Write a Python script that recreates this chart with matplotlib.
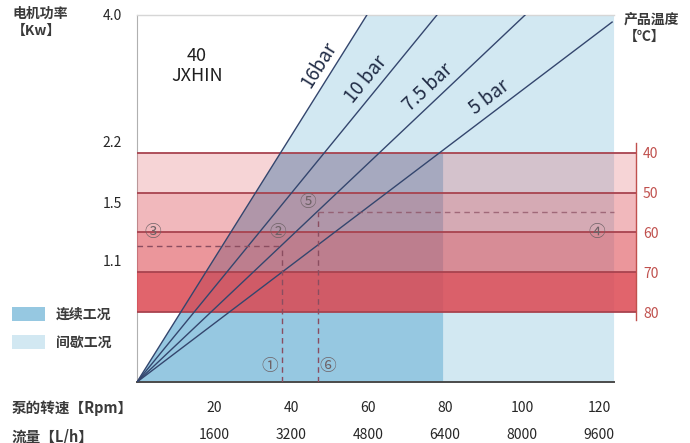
import numpy as np
import matplotlib
matplotlib.use("Agg")
import matplotlib.pyplot as plt
from matplotlib.patches import Polygon, Patch

plt.rcParams["font.family"] = ["Noto Sans CJK SC", "DejaVu Sans"]

# power axis (left), drawn on a schematic non-linear scale
power_ticks = [0, 1.1, 1.5, 2.2, 4.0]
power_frac = [0, 0.332, 0.49, 0.654, 1.0]

# pump speed / flow
rpm_ticks = [20, 40, 60, 80, 100, 120]
flow_ticks = [1600, 3200, 4800, 6400, 8000, 9600]
flow_per_rpm = 80

# product temperature bands (right)
temps = [40, 50, 60, 70, 80]
band_alpha = [0.23, 0.38, 0.57, 0.84]

# pressure lines: end point of each line
pressures = ["16bar", "10 bar", "7.5 bar", "5 bar"]
line_end_rpm = [59.7, 77.9, 100.8, 123.4]
line_end_kw = [4.0, 4.0, 4.0, 3.9]

continuous_max_rpm = 79.5
intermittent_max_rpm = 123.9

# operating examples (dashed)
op_rpm = [37.7, 47.0]
op_kw = [1.2, 1.43]

cont_color = "#96c8e1"
inter_color = "#d2e8f2"
band_color = (220 / 255, 70 / 255, 80 / 255)
red_line = "#a8434f"
red_text = "#c0504d"
navy = "#34466e"
dash_color = "#8a4d60"
circ_color = "#6e6266"
text_color = "#262626"
label_color = "#3a3a3a"


def fwd(p):
    return np.interp(p, power_ticks, power_frac)


def inv(f):
    return np.interp(f, power_frac, power_ticks)


fig = plt.figure(figsize=(6.9, 4.43), dpi=100)
rect = [137 / 690, 1 - 382 / 443, (636 - 137) / 690, 367 / 443]
ax = fig.add_axes(rect)
ax.set_yscale("function", functions=(fwd, inv))
ax.set_ylim(0, 4.0)
ax.set_xlim(0, 129.6)

tw = ax.twinx()
tw.set_ylim(97.6, 5.3)

ax_top = fig.add_axes(rect, sharex=ax, sharey=ax)
ax_top.set_yscale("function", functions=(fwd, inv))
ax_top.set_ylim(0, 4.0)
ax_top.set_xlim(0, 129.6)
ax_top.axis("off")

ax.set_zorder(1)
tw.set_zorder(2)
ax_top.set_zorder(3)
tw.patch.set_visible(False)
ax_top.patch.set_visible(False)

# blue operating regions
light = Polygon([(0, 0), (line_end_rpm[0], 4.0), (intermittent_max_rpm, 4.0),
                 (intermittent_max_rpm, 0)], closed=True, facecolor=inter_color,
                edgecolor="none")
ax.add_patch(light)
frac40 = tw.transLimits.transform((0, temps[0]))[1]
x40 = line_end_rpm[0] * frac40
p40 = inv(frac40)
dark = Polygon([(0, 0), (x40, p40), (continuous_max_rpm, p40),
                (continuous_max_rpm, 0)], closed=True, facecolor=cont_color,
               edgecolor="none")
ax.add_patch(dark)

# temperature bands
for i in range(len(temps) - 1):
    tw.axhspan(temps[i], temps[i + 1], color=band_color, alpha=band_alpha[i], lw=0)
tw.hlines(temps, 0, 129.6, color=red_line, lw=1.3)

# frame lines
ax_top.plot([0, intermittent_max_rpm], [0, 0], color="#4a4a4a", lw=1.4, clip_on=False)
ax_top.plot([0, intermittent_max_rpm], [4.0, 4.0], color="#d6d6d6", lw=1.0, clip_on=False)

# pressure lines
for lab, r, p, f in zip(pressures, line_end_rpm, line_end_kw, [0.845, 0.80, 0.775, 0.76]):
    ax_top.plot([0, r], [0, p], color=navy, lw=1.0)
    d0 = ax.transData.transform((0, 0))
    d1 = ax.transData.transform((r, p))
    ang = np.arctan2(d1[1] - d0[1], d1[0] - d0[0])
    px, py = r * f, inv(f * fwd(p))
    off = 10
    ax_top.annotate(lab, xy=(px, py), xytext=(-np.sin(ang) * off, np.cos(ang) * off),
                    textcoords="offset points", ha="center", va="center",
                    rotation=np.degrees(ang), rotation_mode="anchor",
                    fontsize=13.5, color="#1f2a44")

# dashed operating lines
ax_top.plot([0, op_rpm[0]], [op_kw[0], op_kw[0]], ls=(0, (4, 3)), color=dash_color, lw=1.0)
ax_top.plot([op_rpm[0], op_rpm[0]], [0, op_kw[0]], ls=(0, (4, 3)), color=dash_color, lw=1.0)
ax_top.plot([op_rpm[1], intermittent_max_rpm], [op_kw[1], op_kw[1]], ls=(0, (4, 3)),
            color=dash_color, lw=1.0, alpha=0.7)
ax_top.plot([op_rpm[1], op_rpm[1]], [0, op_kw[1]], ls=(0, (4, 3)), color=dash_color, lw=1.0)

# circled markers
for s, r in zip(["③", "②", "④"], [4.2, 36.6, 119.5]):
    tw.text(r, 60, s, ha="center", va="center", fontsize=12, color=circ_color)
ax_top.text(44.4, 1.5, "⑤", ha="center", va="center", fontsize=12, color=circ_color)
ax_top.text(34.5, 0.136, "①", ha="center", va="center", fontsize=12, color=circ_color)
ax_top.text(49.6, 0.136, "⑥", ha="center", va="center", fontsize=12, color=circ_color)

ax_top.text(0.12, 0.861, "40\nJXHIN", transform=ax_top.transAxes, ha="center",
            va="center", fontsize=13, color="#1f1f1f", linespacing=1.15)

# axes styling
for s in ["top", "right", "bottom"]:
    ax.spines[s].set_visible(False)
ax.spines["left"].set_color("#b0b0b0")
ax.spines["left"].set_linewidth(0.8)
ax.set_yticks(power_ticks[1:])
ax.set_yticklabels([f"{v:.1f}" for v in power_ticks[1:]])
ax.yaxis.set_minor_locator(matplotlib.ticker.NullLocator())
ax.tick_params(axis="y", length=0, pad=11, labelsize=10, labelcolor=text_color)
ax.set_xticks(rpm_ticks)
ax.tick_params(axis="x", length=0, pad=14, labelsize=10, labelcolor=text_color)

for s in ["top", "left", "bottom"]:
    tw.spines[s].set_visible(False)
tw.spines["right"].set_color(red_text)
tw.spines["right"].set_linewidth(1.0)
tw.spines["right"].set_bounds(37.5, 82)
tw.set_yticks(temps)
tw.tick_params(axis="y", length=0, pad=5, labelsize=10, labelcolor=red_text)

sec = ax.secondary_xaxis(0, functions=(lambda r: r * flow_per_rpm, lambda f: f / flow_per_rpm))
sec.set_xticks(flow_ticks)
sec.spines["bottom"].set_visible(False)
sec.tick_params(length=0, pad=33, labelsize=10, labelcolor=text_color)

# side labels
fig.text(12 / 690, 1 - 7 / 443, "电机功率\n【Kw】", ha="left", va="top", fontsize=10,
         fontweight="bold", color=label_color, linespacing=1.3)
fig.text(624 / 690, 1 - 13 / 443, "产品温度\n【℃】", ha="left", va="top", fontsize=10,
         fontweight="bold", color=label_color, linespacing=1.3)
fig.text(12 / 690, 1 - 408 / 443, "泵的转速【Rpm】", ha="left", va="center", fontsize=10.5,
         fontweight="bold", color=label_color)
fig.text(12 / 690, 1 - 436 / 443, "流量【L/h】", ha="left", va="center", fontsize=10.5,
         fontweight="bold", color=label_color)

leg = fig.legend(handles=[Patch(facecolor=cont_color), Patch(facecolor=inter_color)],
                 labels=["连续工况", "间歇工况"], loc="upper left",
                 bbox_to_anchor=(12 / 690, 1 - 307 / 443), frameon=False,
                 handlelength=2.4, handleheight=1.2, handletextpad=0.75, labelspacing=0.95,
                 borderpad=0, borderaxespad=0, labelcolor=label_color,
                 prop={"weight": "bold", "size": 10})

fig.savefig("out.png", dpi=100)
